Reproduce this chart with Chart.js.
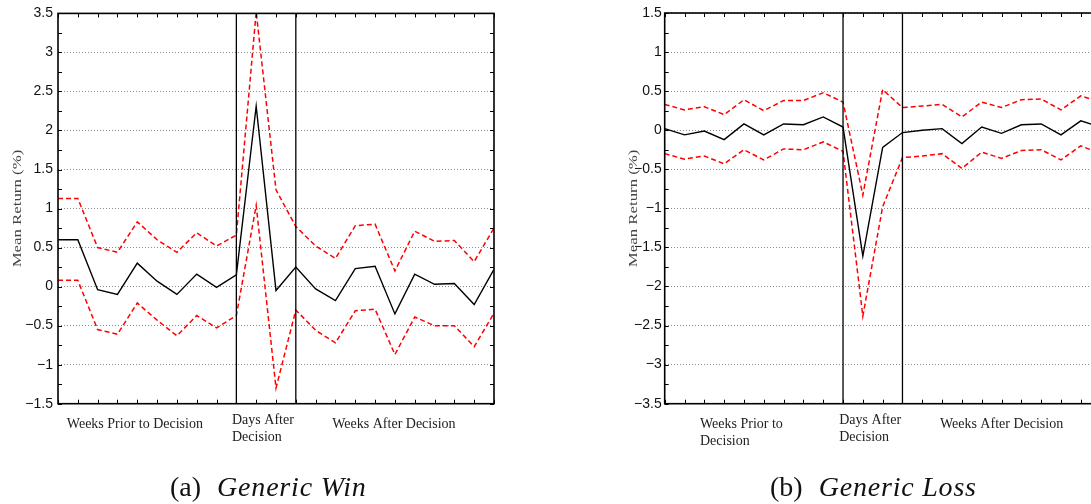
<!DOCTYPE html>
<html>
<head>
<meta charset="utf-8">
<script src="https://cdn.jsdelivr.net/npm/chart.js@4.4.1/dist/chart.umd.min.js"></script>
<style>
  html, body { margin: 0; padding: 0; background: #fff; width: 1091px; height: 504px; overflow: hidden; }
  .painel { position: absolute; top: 0; width: 540px; height: 504px; }
  .legenda { position: absolute; top: 469px; font-family: "Liberation Serif", serif; font-size: 28px; line-height: 36px; color: #111; white-space: nowrap; }
  .legenda i { margin-left: 16px; letter-spacing: 0.8px; }
</style>
</head>
<body>
<div class="painel" style="left:0"><canvas id="grafico-win"></canvas></div>
<div class="painel" style="left:590px"><canvas id="grafico-loss"></canvas></div>
<div class="legenda" style="left:170px">(a)<i>Generic Win</i></div>
<div class="legenda" style="left:770px">(b)<i>Generic Loss</i></div>
<script>
// posicoes no eixo x (semanas antes, dias depois, semanas depois)
const periodos = [0, 1, 2, 3, 4, 5, 6, 7, 8, 9, 10, 11, 12, 13, 14, 15, 16, 17, 18, 19, 20, 21, 22];
const divisoes = [9, 12];

const winMedia    = [0.60, 0.60, -0.04, -0.10, 0.30, 0.07, -0.10, 0.16, -0.01, 0.15, 2.31, -0.05, 0.25, -0.03, -0.18, 0.23, 0.26, -0.35, 0.16, 0.03, 0.04, -0.23, 0.22];
const winSuperior = [1.13, 1.13, 0.50, 0.44, 0.83, 0.60, 0.44, 0.69, 0.52, 0.66, 3.52, 1.24, 0.77, 0.52, 0.36, 0.78, 0.80, 0.20, 0.71, 0.58, 0.59, 0.32, 0.75];
const winInferior = [0.08, 0.08, -0.55, -0.61, -0.21, -0.43, -0.63, -0.37, -0.53, -0.37, 1.04, -1.30, -0.30, -0.56, -0.72, -0.31, -0.29, -0.87, -0.39, -0.50, -0.50, -0.77, -0.34];

const lossMedia    = [0.02, -0.06, -0.01, -0.12, 0.08, -0.06, 0.08, 0.07, 0.17, 0.04, -1.61, -0.22, -0.03, 0.00, 0.02, -0.17, 0.04, -0.04, 0.07, 0.08, -0.06, 0.12, 0.04];
const lossSuperior = [0.33, 0.26, 0.30, 0.20, 0.39, 0.25, 0.38, 0.38, 0.48, 0.36, -0.83, 0.52, 0.29, 0.31, 0.33, 0.17, 0.36, 0.29, 0.39, 0.40, 0.26, 0.44, 0.36];
const lossInferior = [-0.30, -0.37, -0.33, -0.43, -0.25, -0.38, -0.24, -0.25, -0.15, -0.27, -2.38, -0.98, -0.35, -0.33, -0.30, -0.49, -0.28, -0.36, -0.26, -0.25, -0.38, -0.20, -0.30];

const winEixoY = [-1.5, 3.5];
const lossEixoY = [-3.5, 1.5];

const tituloY = 'Mean Return (%)';
const winRotulos = [
    { linhas: ['Weeks Prior to Decision'], x: 3.88, alinhar: 'center', dy: 20.3 },
    { linhas: ['Days After', 'Decision'], x: 8.78, alinhar: 'left', dy: 16.3 },
    { linhas: ['Weeks After Decision'], x: 16.95, alinhar: 'center', dy: 20.3 }
];
const lossRotulos = [
    { linhas: ['Weeks Prior to', 'Decision'], x: 1.78, alinhar: 'left', dy: 20.3 },
    { linhas: ['Days After', 'Decision'], x: 8.81, alinhar: 'left', dy: 16.3 },
    { linhas: ['Weeks After Decision'], x: 17.0, alinhar: 'center', dy: 20.8 }
];

const molduraPlugin = {
    id: 'moldura',
    afterDatasetsDraw(chart, args, opts) {
        const { ctx, chartArea: a, scales: { x, y } } = chart;
        ctx.save();
        ctx.strokeStyle = '#000';

        ctx.lineWidth = 1.3;
        divisoes.forEach(d => {
            const px = x.getPixelForValue(d);
            ctx.beginPath();
            ctx.moveTo(px, a.top);
            ctx.lineTo(px, a.bottom);
            ctx.stroke();
        });

        ctx.lineWidth = 1.6;
        ctx.strokeRect(a.left, a.top, a.right - a.left, a.bottom - a.top);

        // marcas para dentro
        ctx.lineWidth = 1;
        ctx.beginPath();
        periodos.forEach(p => {
            const px = Math.round(x.getPixelForValue(p)) + 0.5;
            ctx.moveTo(px, a.top); ctx.lineTo(px, a.top + 4);
            ctx.moveTo(px, a.bottom); ctx.lineTo(px, a.bottom - 4);
        });
        for (let v = y.min; v <= y.max + 1e-9; v += 0.25) {
            const py = Math.round(y.getPixelForValue(v)) + 0.5;
            ctx.moveTo(a.left, py); ctx.lineTo(a.left + 4, py);
            ctx.moveTo(a.right, py); ctx.lineTo(a.right - 4, py);
        }
        ctx.stroke();
        ctx.restore();
    },
    afterDraw(chart, args, opts) {
        const { ctx, chartArea: a, scales: { x } } = chart;
        ctx.save();
        ctx.fillStyle = '#222';
        ctx.font = '14px "Liberation Serif", serif';
        ctx.textBaseline = 'middle';
        opts.rotulos.forEach(r => {
            ctx.textAlign = r.alinhar;
            r.linhas.forEach((linha, i) => {
                ctx.fillText(linha, x.getPixelForValue(r.x), a.bottom + r.dy + i * 17.5);
            });
        });

        ctx.translate(a.left - opts.tituloDx, (a.top + a.bottom) / 2);
        ctx.rotate(-Math.PI / 2);
        ctx.scale(1.4, 1);
        ctx.fillStyle = '#444';
        ctx.font = '12px "Liberation Serif", serif';
        ctx.textAlign = 'center';
        ctx.fillText(tituloY, 0, 0);
        ctx.restore();
    }
};

function Serie(valores, cor, largura, tracejado) {
    return {
        data: valores.map((v, i) => ({ x: periodos[i], y: v })),
        borderColor: cor,
        borderWidth: largura,
        borderDash: tracejado,
        pointRadius: 0,
        tension: 0,
        fill: false
    };
}

function CriarGrafico(id, media, superior, inferior, eixoY, rotulos, layout) {
    new Chart(document.getElementById(id), {
        type: 'line',
        data: {
            datasets: [
                Serie(superior, '#ff0000', 1.5, [5, 3]),
                Serie(inferior, '#ff0000', 1.5, [5, 3]),
                Serie(media, '#000000', 1.4, [])
            ]
        },
        options: {
            responsive: true,
            maintainAspectRatio: false,
            animation: false,
            layout: { padding: { left: 0, top: 13, right: layout.direita, bottom: 100.3 } },
            scales: {
                x: { type: 'linear', display: false, min: periodos[0], max: periodos[periodos.length - 1] },
                y: {
                    type: 'linear',
                    min: eixoY[0],
                    max: eixoY[1],
                    afterFit: s => { s.width = layout.larguraY; },
                    ticks: {
                        stepSize: 0.5,
                        padding: layout.padTicks,
                        color: '#111',
                        font: { family: '"Liberation Sans", Arial, sans-serif', size: 14 },
                        callback: v => String(v).replace('-', '\u2212')
                    },
                    grid: { color: '#8c8c8c', lineWidth: 1, drawTicks: false },
                    border: { display: false, dash: [1, 2] }
                }
            },
            plugins: {
                legend: { display: false },
                tooltip: { enabled: false },
                moldura: { rotulos: rotulos, tituloDx: layout.tituloDx }
            }
        },
        plugins: [molduraPlugin]
    });
}

CriarGrafico('grafico-win', winMedia, winSuperior, winInferior, winEixoY, winRotulos,
    { larguraY: 58, direita: 46, padTicks: 5, tituloDx: 40.3 });
CriarGrafico('grafico-loss', lossMedia, lossSuperior, lossInferior, lossEixoY, lossRotulos,
    { larguraY: 74.7, direita: 29.4, padTicks: 3, tituloDx: 30.4 });
</script>
</body>
</html>
